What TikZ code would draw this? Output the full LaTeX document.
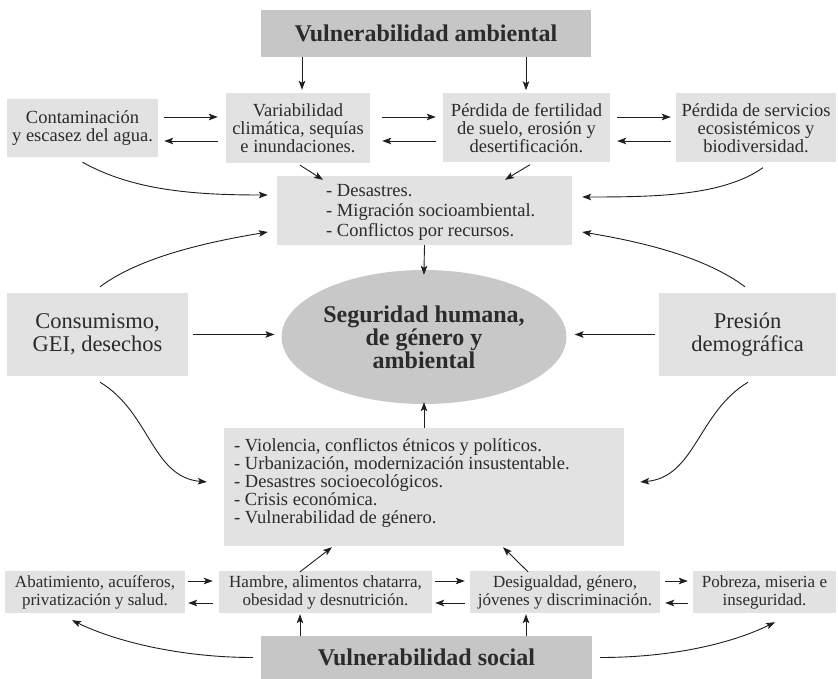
\documentclass[tikz,border=0pt]{standalone}
\usepackage{fontspec}
\setmainfont{Liberation Serif}
\usetikzlibrary{arrows.meta,shapes.geometric}
\definecolor{boxgray}{HTML}{E2E2E3}
\definecolor{titlegray}{HTML}{C6C6C7}
\definecolor{ellgray}{HTML}{C8C8C9}
\definecolor{txtgray}{HTML}{2B2B2B}
\definecolor{arrgray}{HTML}{1E1E1E}
\begin{document}
\begin{tikzpicture}[x=1pt,y=-1pt,
  box/.style={fill=boxgray, text=txtgray, inner sep=0pt, align=center, font=\fontsize{18.5}{18}\selectfont},
  smallbox/.style={box, font=\fontsize{17}{18}\selectfont},
  bigbox/.style={box, font=\fontsize{22.5}{23}\selectfont},
  titlebox/.style={fill=titlegray, text=txtgray, inner sep=0pt, font=\bfseries\fontsize{24}{24}\selectfont},
  listtext/.style={text=txtgray, inner sep=0pt, align=left, anchor=west},
  arr/.style={draw=arrgray, line width=0.9pt, -{Stealth[length=9pt,width=6.5pt,inset=2pt]}}
]
\fill[white] (0,0) rectangle (838,679);
\useasboundingbox (0,0) rectangle (838,679);

% nodes
\node[titlebox, minimum width=330, minimum height=47] (VA) at (426,33.5) {Vulnerabilidad ambiental};
\node[box, minimum width=151, minimum height=58] (cont) at (82.5,128) {Contaminación\\y escasez del agua.};
\node[box, minimum width=144, minimum height=70] (var) at (298,128) {Variabilidad\\climática, sequías\\e inundaciones.};
\node[box, minimum width=167, minimum height=69] (perd) at (526.5,128) {Pérdida de fertilidad\\de suelo, erosión y\\desertificación.};
\node[box, minimum width=160, minimum height=69] (serv) at (756,128) {Pérdida de servicios\\ecosistémicos y\\biodiversidad.};
\node[box, minimum width=295, minimum height=69] (des) at (424.5,210.5) {};
\node[listtext, font=\fontsize{18.5}{20}\selectfont] (destxt) at (326,212) {- Desastres.\\- Migración socioambiental.\\- Conflictos por recursos.};
\node[bigbox, minimum width=181, minimum height=83] (cons) at (97.5,334.5) {Consumismo,\\GEI, desechos};
\node[bigbox, minimum width=177, minimum height=83] (pres) at (747.5,334.5) {Presión\\demográfica};
\node[ellipse, fill=ellgray, text=txtgray, inner sep=0pt, minimum width=234, minimum height=134, align=center,
      font=\bfseries\fontsize{24}{20.5}\selectfont] (ell) at (424,337) {Seguridad humana,\\de género y\\ambiental};
\node[box, minimum width=400, minimum height=118] (viol) at (424,487) {};
\node[listtext, font=\fontsize{18.5}{18}\selectfont] (violtxt) at (234,483) {- Violencia, conflictos étnicos y políticos.\\- Urbanización, modernización insustentable.\\- Desastres socioecológicos.\\- Crisis económica.\\- Vulnerabilidad de género.};
\node[smallbox, minimum width=180, minimum height=42] (abat) at (95,592) {Abatimiento, acuíferos,\\privatización y salud.};
\node[smallbox, minimum width=213, minimum height=42] (hamb) at (325.5,592) {Hambre, alimentos chatarra,\\obesidad y desnutrición.};
\node[smallbox, minimum width=190, minimum height=42] (desig) at (565,592) {Desigualdad, género,\\jóvenes y discriminación.};
\node[smallbox, minimum width=143, minimum height=42] (pobr) at (764.5,592) {Pobreza, miseria e\\inseguridad.};
\node[titlebox, minimum width=331, minimum height=43] (VS) at (426.5,657.5) {Vulnerabilidad social};

% top vertical arrows
\draw[arr, shorten >=3pt] ([xshift=-124pt]VA.south) -- ([xshift=4pt]var.north);
\draw[arr, shorten >=3pt] ([xshift=100pt]VA.south) -- ([xshift=-0.5pt]perd.north);

% row 1 horizontal arrows
\draw[arr, shorten <=6pt, shorten >=8pt] ([yshift=11pt]cont.east) -- ([yshift=11pt]var.west);
\draw[arr, shorten <=8pt, shorten >=6pt] ([yshift=-13pt]var.west) -- ([yshift=-13pt]cont.east);
\draw[arr, shorten <=12pt, shorten >=7pt] ([yshift=11pt]var.east) -- ([yshift=11pt]perd.west);
\draw[arr, shorten <=7pt, shorten >=12pt] ([yshift=-13pt]perd.west) -- ([yshift=-13pt]var.east);
\draw[arr, shorten <=7pt, shorten >=5pt] ([yshift=11pt]perd.east) -- ([yshift=11pt]serv.west);
\draw[arr, shorten <=5pt, shorten >=7pt] ([yshift=-13pt]serv.west) -- ([yshift=-13pt]perd.east);

% short diagonals into desastres
\draw[arr] ([xshift=2pt,yshift=-2pt]var.south) -- ([xshift=-101.5pt,yshift=-4pt]des.north);
\draw[arr] ([xshift=3.5pt,yshift=-2pt]perd.south) -- ([xshift=80.5pt,yshift=-4pt]des.north);

% curves into desastres
\draw[arr] ([yshift=-5pt]cont.south) .. controls +(50,28) and +(-75,0) .. ([xshift=-9pt,yshift=15.5pt]des.west);
\draw[arr] ([xshift=2.5pt,yshift=6pt]cons.north) .. controls +(40,-30) and +(-60,10) .. ([xshift=-9pt,yshift=-21.5pt]des.west);
\draw[arr] ([xshift=7pt,yshift=-5pt]serv.south) .. controls +(-40,28) and +(75,0) .. ([xshift=10pt,yshift=13.5pt]des.east);
\draw[arr] ([xshift=-2.5pt,yshift=6pt]pres.north) .. controls +(-40,-30) and +(60,10) .. ([xshift=10pt,yshift=-21.5pt]des.east);

% into the ellipse
\draw[arr, shorten >=-5pt] (des.south) -- (ell.north);
\draw[arr, shorten >=-2pt] (viol.north) -- (ell.south);
\draw[arr, shorten <=5pt, shorten >=7pt] (cons.east) -- (cons.east -| ell.west);
\draw[arr, shorten <=4pt, shorten >=8pt] (pres.west) -- (pres.west -| ell.east);

% curves into violencia box
\draw[arr] ([xshift=2.5pt,yshift=-6pt]cons.south) .. controls +(50,30) and +(-55,-5) .. ([xshift=-17pt,yshift=5pt]viol.west);
\draw[arr] ([xshift=0.5pt,yshift=-6pt]pres.south) .. controls +(-50,30) and +(55,-5) .. ([xshift=16pt,yshift=5pt]viol.east);

% from bottom row to violencia box
\draw[arr] ([xshift=-25.5pt,yshift=-1pt]hamb.north) -- ([xshift=-92pt,yshift=-1pt]viol.south);
\draw[arr] ([xshift=-37pt,yshift=-1pt]desig.north) -- ([xshift=79pt,yshift=-1pt]viol.south);

% bottom row horizontal arrows
\draw[arr, shorten <=3pt, shorten >=6pt] ([yshift=11pt]abat.east) -- ([yshift=11pt]hamb.west);
\draw[arr, shorten <=6pt, shorten >=3pt] ([yshift=-11pt]hamb.west) -- ([yshift=-11pt]abat.east);
\draw[arr, shorten <=3pt, shorten >=5pt] ([yshift=11pt]hamb.east) -- ([yshift=11pt]desig.west);
\draw[arr, shorten <=5pt, shorten >=3pt] ([yshift=-11pt]desig.west) -- ([yshift=-11pt]hamb.east);
\draw[arr, shorten <=5pt, shorten >=5pt] ([yshift=11pt]desig.east) -- ([yshift=11pt]pobr.west);
\draw[arr, shorten <=5pt, shorten >=5pt] ([yshift=-11pt]pobr.west) -- ([yshift=-11pt]desig.east);

% from social vulnerability
\draw[arr, shorten >=1pt] ([xshift=-126.5pt]VS.north) -- ([xshift=-25.5pt]hamb.south);
\draw[arr, shorten >=1pt] ([xshift=99.5pt]VS.north) -- ([xshift=-39pt]desig.south);
\draw[arr] ([xshift=-8pt]VS.west) .. controls +(-70,0) and +(45,22) .. ([xshift=-23pt,yshift=-7pt]abat.south);
\draw[arr] ([xshift=8pt]VS.east) .. controls +(70,0) and +(-45,22) .. ([xshift=10.5pt,yshift=-9pt]pobr.south);
\end{tikzpicture}
\end{document}
